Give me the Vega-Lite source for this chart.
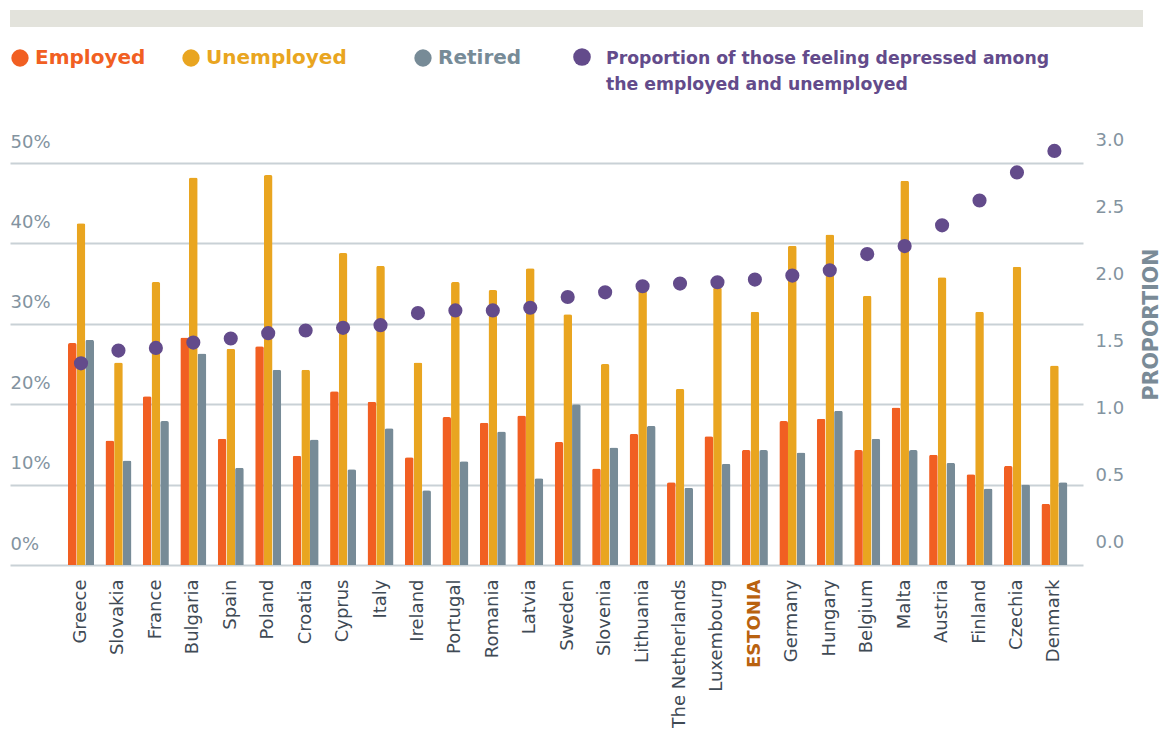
{
  "$schema": "https://vega.github.io/schema/vega-lite/v6.json",
  "background": "white",
  "padding": {"left": 10, "top": 10, "right": 0, "bottom": 0},
  "bounds": "flush",
  "spacing": 136,
  "config": {
    "view": {"stroke": null},
    "font": "DejaVu Sans"
  },
  "datasets": {
    "rows": [
      {"country": "Greece", "Employed": 27.6, "Unemployed": 42.5, "Retired": 28.0, "proportion": 1.505},
      {"country": "Slovakia", "Employed": 15.5, "Unemployed": 25.2, "Retired": 13.0, "proportion": 1.60},
      {"country": "France", "Employed": 21.0, "Unemployed": 35.2, "Retired": 17.9, "proportion": 1.62},
      {"country": "Bulgaria", "Employed": 28.3, "Unemployed": 48.2, "Retired": 26.3, "proportion": 1.66},
      {"country": "Spain", "Employed": 15.7, "Unemployed": 26.9, "Retired": 12.1, "proportion": 1.69},
      {"country": "Poland", "Employed": 27.2, "Unemployed": 48.5, "Retired": 24.3, "proportion": 1.73},
      {"country": "Croatia", "Employed": 13.6, "Unemployed": 24.3, "Retired": 15.6, "proportion": 1.75},
      {"country": "Cyprus", "Employed": 21.6, "Unemployed": 38.8, "Retired": 11.9, "proportion": 1.77},
      {"country": "Italy", "Employed": 20.3, "Unemployed": 37.2, "Retired": 17.0, "proportion": 1.79},
      {"country": "Ireland", "Employed": 13.4, "Unemployed": 25.2, "Retired": 9.3, "proportion": 1.88},
      {"country": "Portugal", "Employed": 18.4, "Unemployed": 35.2, "Retired": 12.9, "proportion": 1.90},
      {"country": "Romania", "Employed": 17.7, "Unemployed": 34.2, "Retired": 16.6, "proportion": 1.90},
      {"country": "Latvia", "Employed": 18.6, "Unemployed": 36.9, "Retired": 10.8, "proportion": 1.92},
      {"country": "Sweden", "Employed": 15.3, "Unemployed": 31.2, "Retired": 20.0, "proportion": 2.00},
      {"country": "Slovenia", "Employed": 12.0, "Unemployed": 25.0, "Retired": 14.6, "proportion": 2.035},
      {"country": "Lithuania", "Employed": 16.3, "Unemployed": 34.5, "Retired": 17.3, "proportion": 2.08},
      {"country": "The Netherlands", "Employed": 10.3, "Unemployed": 21.9, "Retired": 9.6, "proportion": 2.10},
      {"country": "Luxembourg", "Employed": 16.0, "Unemployed": 34.5, "Retired": 12.6, "proportion": 2.11},
      {"country": "ESTONIA", "Employed": 14.3, "Unemployed": 31.5, "Retired": 14.3, "proportion": 2.13},
      {"country": "Germany", "Employed": 17.9, "Unemployed": 39.7, "Retired": 14.0, "proportion": 2.16},
      {"country": "Hungary", "Employed": 18.2, "Unemployed": 41.1, "Retired": 19.2, "proportion": 2.20},
      {"country": "Belgium", "Employed": 14.3, "Unemployed": 33.5, "Retired": 15.7, "proportion": 2.32},
      {"country": "Malta", "Employed": 19.6, "Unemployed": 47.8, "Retired": 14.3, "proportion": 2.38},
      {"country": "Austria", "Employed": 13.7, "Unemployed": 35.8, "Retired": 12.7, "proportion": 2.535},
      {"country": "Finland", "Employed": 11.3, "Unemployed": 31.5, "Retired": 9.5, "proportion": 2.72},
      {"country": "Czechia", "Employed": 12.3, "Unemployed": 37.1, "Retired": 10.0, "proportion": 2.93},
      {"country": "Denmark", "Employed": 7.6, "Unemployed": 24.8, "Retired": 10.3, "proportion": 3.09}
    ]
  },
  "vconcat": [
    {
      "width": 1133,
      "height": 17,
      "view": {"fill": "#E3E3DC", "stroke": null},
      "data": {"values": [{}]},
      "mark": {"type": "text", "text": ""},
      "encoding": {}
    },
    {
      "width": 1073,
      "height": 402,
      "title": {
        "text": ["Proportion of those feeling depressed among", "the employed and unemployed"],
        "orient": "top", "anchor": "start", "frame": "group",
        "dx": 596, "offset": -63, "lineHeight": 26,
        "fontSize": 17.3, "fontWeight": "bold", "font": "DejaVu Sans",
        "color": "#634B8B", "baseline": "bottom"
      },
      "data": {"name": "rows"},
      "resolve": {"scale": {"y": "independent", "color": "independent"}},
      "layer": [
        {
          "transform": [{"fold": ["Employed", "Unemployed", "Retired"], "as": ["group", "pct"]}],
          "mark": {"type": "bar", "cornerRadiusTopLeft": 2, "cornerRadiusTopRight": 2},
          "encoding": {
            "x": {
              "field": "country", "type": "nominal",
              "scale": {
                "domain": ["Greece", "Slovakia", "France", "Bulgaria", "Spain", "Poland", "Croatia", "Cyprus", "Italy", "Ireland", "Portugal", "Romania", "Latvia", "Sweden", "Slovenia", "Lithuania", "The Netherlands", "Luxembourg", "ESTONIA", "Germany", "Hungary", "Belgium", "Malta", "Austria", "Finland", "Czechia", "Denmark"],
                "paddingInner": 0.3056, "paddingOuter": 0.983, "align": 0.788
              },
              "axis": {
                "title": null, "domain": false, "ticks": false,
                "labelAngle": -90, "labelAlign": "right", "labelBaseline": "middle",
                "labelPadding": 14, "labelFontSize": 18, "labelFont": "DejaVu Sans",
                "labelColor": {"condition": {"test": "datum.value == 'ESTONIA'", "value": "#B9620F"}, "value": "#3F4A55"},
                "labelFontWeight": {"condition": {"test": "datum.value == 'ESTONIA'", "value": "bold"}, "value": "normal"}
              }
            },
            "xOffset": {
              "field": "group", "type": "nominal",
              "scale": {"domain": ["Employed", "Unemployed", "Retired"], "paddingInner": 0, "paddingOuter": 0}
            },
            "y": {
              "field": "pct", "type": "quantitative",
              "scale": {"domain": [0, 50], "nice": false},
              "axis": {
                "title": null, "values": [0, 10, 20, 30, 40, 50],
                "labelExpr": "datum.value + '%'",
                "grid": true, "gridColor": "#C9D1D6", "gridWidth": 2,
                "domain": false, "ticks": false,
                "labelAlign": "left", "labelPadding": 0, "labelOffset": -21,
                "labelBaseline": "middle", "labelFontSize": 18, "labelColor": "#8393A0"
              }
            },
            "color": {
              "field": "group", "type": "nominal",
              "scale": {"domain": ["Employed", "Unemployed", "Retired"], "range": ["#F15F22", "#E9A520", "#778B97"]},
              "legend": {
                "title": null, "orient": "none", "legendX": 0, "legendY": -115,
                "direction": "horizontal", "symbolType": "circle", "symbolSize": 300,
                "symbolStrokeWidth": 0, "labelFontSize": 20, "labelFontWeight": "bold",
                "labelFont": "DejaVu Sans", "labelOffset": 5, "labelLimit": 400,
                "columnPadding": 35, "labelBaseline": "middle",
                "labelExpr": "datum.label == 'Unemployed' ? 'Unemployed\u2800\u2800' : datum.label",
                "encode": {"labels": {"update": {"fill": {"signal": "datum.value == 'Employed' ? '#F15F22' : datum.value == 'Unemployed' ? '#E9A520' : '#778B97'"}}}}
              }
            }
          }
        },
        {
          "mark": {"type": "point", "filled": true, "size": 200, "opacity": 1},
          "encoding": {
            "x": {"field": "country", "type": "nominal"},
            "y": {
              "field": "proportion", "type": "quantitative",
              "scale": {"domain": [0, 3], "nice": false},
              "axis": {
                "orient": "right", "title": "PROPORTION",
                "values": [0, 0.5, 1, 1.5, 2, 2.5, 3], "format": ".1f",
                "grid": false, "domain": false, "ticks": false,
                "labelAlign": "left", "labelPadding": 12, "labelOffset": -23,
                "labelBaseline": "middle", "labelFontSize": 18, "labelColor": "#8393A0",
                "titleFontSize": 20.5, "titleFontWeight": "bold", "titleColor": "#7A8B97",
                "titleAngle": 270, "titleX": 68, "titleY": 161,
                "titleBaseline": "middle", "titleAlign": "center"
              }
            },
            "color": {
              "datum": "Proportion of those feeling depressed among the employed and unemployed",
              "type": "nominal",
              "scale": {"range": ["#634B8B"]},
              "legend": {
                "title": null, "orient": "none", "legendX": 563, "legendY": -115,
                "symbolType": "circle", "symbolSize": 310, "symbolStrokeWidth": 0,
                "labelExpr": "''", "labelOffset": 0
              }
            }
          }
        }
      ]
    }
  ]
}
